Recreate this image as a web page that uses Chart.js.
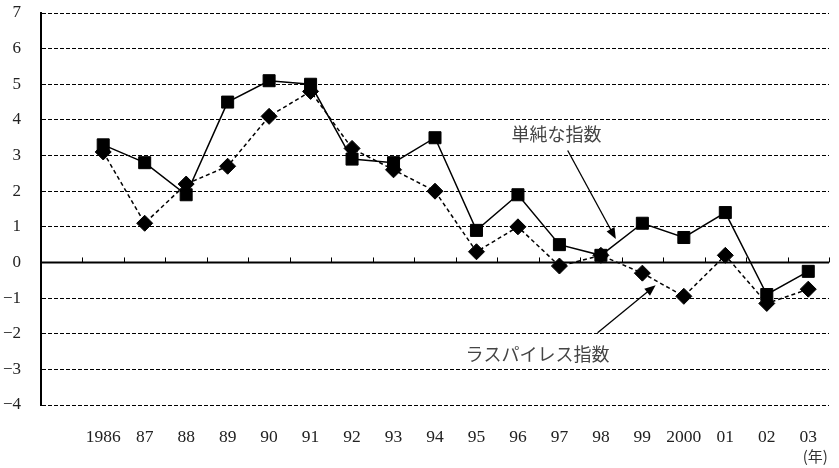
<!DOCTYPE html>
<html>
<head>
<meta charset="utf-8">
<script src="https://cdn.jsdelivr.net/npm/chart.js"></script>
<style>
  html, body { margin: 0; padding: 0; background: #fff; }
</style>
</head>
<body>
<canvas id="chart" width="839" height="468"></canvas>
<script>
'use strict';

// years on the x axis (the first slot of the axis is left empty)
var years = ['1986', '87', '88', '89', '90', '91', '92', '93', '94', '95',
             '96', '97', '98', '99', '2000', '01', '02', '03'];

// 単純な指数 (squares, solid line)
var simpleIdx = [3.3, 2.8, 1.9, 4.5, 5.1, 5.0, 2.9, 2.8, 3.5, 0.9,
                 1.9, 0.5, 0.2, 1.1, 0.7, 1.4, -0.9, -0.25];

// ラスパイレス指数 (diamonds, dashed line)
var laspeyresIdx = [3.1, 1.1, 2.2, 2.7, 4.1, 4.8, 3.2, 2.6, 2.0, 0.3,
                    1.0, -0.1, 0.2, -0.3, -0.95, 0.2, -1.15, -0.75];

var yTicks = [-4, -3, -2, -1, 0, 1, 2, 3, 4, 5, 6, 7];

// annotation labels + arrows, in data units (year index, value)
var notes = [
  { text: '単純な指数', at: [10.93, 3.59], from: [11.2, 3.14], to: [12.36, 0.66] },
  { text: 'ラスパイレス指数', at: [10.47, -2.56], from: [11.92, -1.97], to: [13.32, -0.64] }
];

var labels = [''].concat(years);

var serif = "'Liberation Serif', 'DejaVu Serif', serif";
var jp = "'Noto Sans CJK JP', sans-serif";

// zero line with little ticks + arrows + notes + (年)
var extras = {
  id: 'extras',
  afterDatasetsDraw: function(chart) {
    var ctx = chart.ctx, x = chart.scales.x, y = chart.scales.y;
    var area = chart.chartArea;
    var y0 = y.getPixelForValue(0);
    ctx.save();
    ctx.strokeStyle = '#000';
    ctx.lineWidth = 2;
    ctx.setLineDash([]);
    ctx.beginPath();
    ctx.moveTo(area.left, y0);
    ctx.lineTo(area.right, y0);
    ctx.stroke();
    ctx.lineWidth = 1;
    ctx.beginPath();
    for (var i = 1; i <= labels.length; i++) {
      var bx = i < labels.length ? (x.getPixelForValue(i - 1) + x.getPixelForValue(i)) / 2 : area.right;
      bx = Math.round(bx) + 0.5;
      ctx.moveTo(bx, y0);
      ctx.lineTo(bx, y0 - 5);
    }
    ctx.stroke();

    notes.forEach(function(n) {
      var x1 = x.getPixelForValue(n.from[0] + 1), y1 = y.getPixelForValue(n.from[1]);
      var x2 = x.getPixelForValue(n.to[0] + 1), y2 = y.getPixelForValue(n.to[1]);
      var ang = Math.atan2(y2 - y1, x2 - x1);
      var hl = 11, hw = 4.5;
      ctx.strokeStyle = '#000';
      ctx.lineWidth = 1.3;
      ctx.beginPath();
      ctx.moveTo(x1, y1);
      ctx.lineTo(x2 - Math.cos(ang) * hl * 0.8, y2 - Math.sin(ang) * hl * 0.8);
      ctx.stroke();
      ctx.fillStyle = '#000';
      ctx.beginPath();
      ctx.moveTo(x2, y2);
      ctx.lineTo(x2 - Math.cos(ang) * hl - Math.sin(ang) * hw, y2 - Math.sin(ang) * hl + Math.cos(ang) * hw);
      ctx.lineTo(x2 - Math.cos(ang) * hl + Math.sin(ang) * hw, y2 - Math.sin(ang) * hl - Math.cos(ang) * hw);
      ctx.closePath();
      ctx.fill();

      ctx.fillStyle = '#444';
      ctx.font = '18px ' + jp;
      ctx.textAlign = 'center';
      ctx.textBaseline = 'middle';
      ctx.fillText(n.text, x.getPixelForValue(n.at[0] + 1), y.getPixelForValue(n.at[1]));
    });

    // unit under the last year label
    ctx.fillStyle = '#333';
    ctx.font = '15px ' + jp;
    ctx.textAlign = 'center';
    ctx.textBaseline = 'middle';
    ctx.fillText('(年)', x.getPixelForValue(labels.length - 1) + 7, area.bottom + 51);
    ctx.restore();
  }
};

var ctx = document.getElementById('chart').getContext('2d');
var chart = new Chart(ctx, {
  type: 'line',
  data: {
    labels: labels,
    datasets: [{
      label: 'ラスパイレス指数',
      data: [null].concat(laspeyresIdx),
      borderColor: '#000',
      backgroundColor: '#000',
      borderWidth: 1.5,
      borderDash: [4, 3],
      pointStyle: 'rectRot',
      pointRadius: 8,
      pointBorderWidth: 1,
      tension: 0
    }, {
      label: '単純な指数',
      data: [null].concat(simpleIdx),
      borderColor: '#000',
      backgroundColor: '#000',
      borderWidth: 1.5,
      pointStyle: 'rect',
      pointRadius: 8.5,
      pointBorderWidth: 1,
      tension: 0
    }]
  },
  options: {
    responsive: false,
    animation: false,
    layout: { padding: { top: 13, right: 10, bottom: 0, left: 0 } },
    plugins: { legend: { display: false }, tooltip: { enabled: false } },
    scales: {
      x: {
        type: 'category',
        offset: true,
        grid: { display: false, drawTicks: false },
        border: { display: false },
        ticks: {
          autoSkip: false,
          maxRotation: 0,
          padding: 22,
          color: '#222',
          font: { family: serif, size: 17.5 }
        },
        afterFit: function(s) { s.height = 63; s.paddingLeft = 0; s.paddingRight = 0; }
      },
      y: {
        min: -4,
        max: 7,
        afterBuildTicks: function(s) { s.ticks = yTicks.map(function(v) { return { value: v }; }); },
        grid: {
          drawTicks: false,
          lineWidth: 1,
          color: function(c) { return c.tick && c.tick.value === 0 ? 'rgba(0,0,0,0)' : '#000'; }
        },
        border: { display: true, color: '#000', width: 2, dash: [4, 2] },
        ticks: {
          padding: 20,
          color: '#222',
          font: { family: serif, size: 17 },
          callback: function(v) { return String(v).replace('-', '\u2212'); }
        },
        afterFit: function(s) { s.width = 41; s.paddingTop = 0; s.paddingBottom = 0; }
      }
    }
  },
  plugins: [extras]
});
</script>
</body>
</html>
